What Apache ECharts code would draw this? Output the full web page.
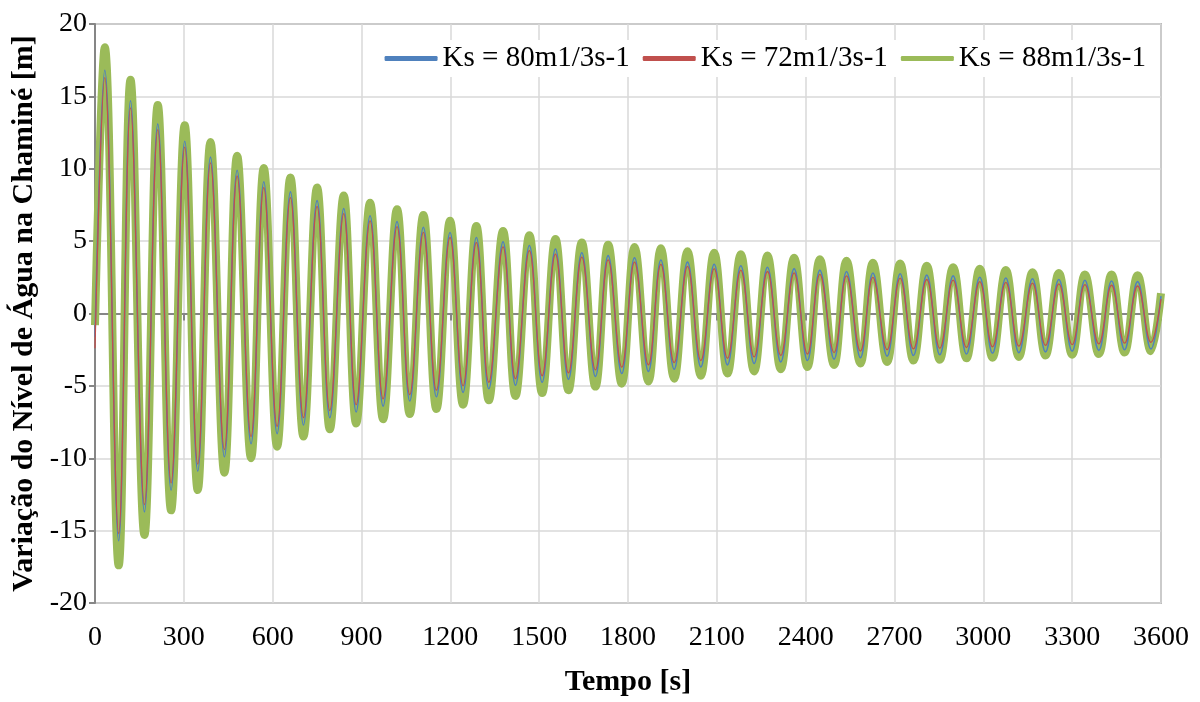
<!DOCTYPE html>
<html>
<head>
<meta charset="utf-8">
<script src="https://cdn.jsdelivr.net/npm/echarts@6/dist/echarts.min.js"></script>
<style>
html,body{margin:0;padding:0;background:#fff;}
#chart{width:1200px;height:702px;}
</style>
</head>
<body>
<div id="chart"></div>
<script>
// Time instants (s): start, then alternating peak / trough times, then end
const time = [0, 33, 80, 120, 167, 212, 257, 303, 347, 390, 437, 480, 527, 570, 615, 660, 704, 750, 793, 840, 882,
  929, 973, 1020, 1063, 1109, 1153, 1199, 1243, 1288, 1330, 1378, 1420, 1467, 1510, 1555, 1599, 1644, 1690, 1733, 1779,
  1822, 1869, 1911, 1956, 2001, 2046, 2091, 2136, 2181, 2226, 2271, 2316, 2361, 2406, 2448, 2496, 2538, 2585, 2627, 2675,
  2719, 2764, 2809, 2853, 2898, 2943, 2988, 3031, 3076, 3120, 3166, 3210, 3255, 3300, 3343, 3390, 3433, 3477, 3521, 3566, 3600];

const xTicks = [0, 300, 600, 900, 1200, 1500, 1800, 2100, 2400, 2700, 3000, 3300, 3600];
const yTicks = [-20, -15, -10, -5, 0, 5, 10, 15, 20];
const seriesNames = ['Ks = 80m1/3s-1', 'Ks = 72m1/3s-1', 'Ks = 88m1/3s-1'];

// Ks = 80 (blue)
const blueStart = -1.6, blueEnd = 1.2;
const bluePeaks = [16.8, 14.7, 13.1, 11.9, 10.8, 9.9, 9.1, 8.4, 7.8, 7.25, 6.75, 6.35, 5.95, 5.6, 5.25, 4.95, 4.7, 4.45, 4.2, 4.0,
  3.85, 3.7, 3.55, 3.4, 3.3, 3.2, 3.1, 3.0, 2.9, 2.8, 2.75, 2.65, 2.6, 2.5, 2.45, 2.4, 2.35, 2.3, 2.25, 2.2];
const blueTroughs = [-15.7, -13.7, -12.2, -10.9, -9.9, -9.0, -8.3, -7.7, -7.2, -6.8, -6.4, -6.05, -5.75, -5.45, -5.2, -4.95, -4.75, -4.55, -4.35, -4.15,
  -4.0, -3.85, -3.7, -3.55, -3.45, -3.35, -3.25, -3.15, -3.05, -2.95, -2.9, -2.85, -2.8, -2.75, -2.7, -2.65, -2.6, -2.55, -2.5, -2.45];

// Ks = 72 (red)
const redStart = -2.4, redEnd = 1.0;
const redPeaks = [16.3, 14.2, 12.7, 11.5, 10.4, 9.5, 8.7, 8.0, 7.4, 6.9, 6.4, 6.0, 5.6, 5.25, 4.9, 4.6, 4.35, 4.1, 3.9, 3.7,
  3.55, 3.4, 3.25, 3.1, 3.0, 2.9, 2.8, 2.7, 2.6, 2.5, 2.45, 2.35, 2.3, 2.2, 2.15, 2.1, 2.05, 2.0, 1.95, 1.9];
const redTroughs = [-15.2, -13.2, -11.7, -10.4, -9.4, -8.5, -7.8, -7.2, -6.7, -6.3, -5.9, -5.6, -5.3, -5.0, -4.75, -4.5, -4.3, -4.1, -3.9, -3.7,
  -3.55, -3.4, -3.25, -3.1, -3.0, -2.9, -2.8, -2.7, -2.6, -2.5, -2.45, -2.4, -2.35, -2.3, -2.25, -2.2, -2.15, -2.1, -2.05, -2.0];

// Ks = 88 (green)
const greenStart = -0.8, greenEnd = 1.4;
const greenPeaks = [18.4, 16.15, 14.4, 13.0, 11.85, 10.9, 10.05, 9.4, 8.7, 8.15, 7.65, 7.2, 6.8, 6.4, 6.05, 5.7, 5.4, 5.15, 4.9, 4.75,
  4.6, 4.5, 4.3, 4.2, 4.1, 4.0, 3.85, 3.75, 3.65, 3.5, 3.45, 3.3, 3.2, 3.1, 3.0, 2.85, 2.8, 2.7, 2.7, 2.65];
const greenTroughs = [-17.4, -15.3, -13.6, -12.2, -11.0, -10.0, -9.2, -8.5, -8.0, -7.6, -7.3, -6.95, -6.6, -6.3, -6.0, -5.7, -5.5, -5.3, -5.05, -4.85,
  -4.7, -4.5, -4.3, -4.15, -4.0, -3.85, -3.7, -3.55, -3.45, -3.35, -3.25, -3.2, -3.1, -3.05, -3.0, -2.9, -2.85, -2.8, -2.7, -2.6];

function build(start, peaks, troughs, end) {
  const out = [[time[0], start]];
  for (let i = 0; i < peaks.length; i++) {
    out.push([time[1 + 2 * i], peaks[i]]);
    out.push([time[2 + 2 * i], troughs[i]]);
  }
  out.push([time[time.length - 1], end]);
  return out;
}

const FONT = 'Liberation Serif';
const chart = echarts.init(document.getElementById('chart'), null, {renderer: 'canvas'});
const xMin = xTicks[0], xMax = xTicks[xTicks.length - 1], xInt = xTicks[1] - xTicks[0];
const yMin = yTicks[0], yMax = yTicks[yTicks.length - 1], yInt = yTicks[1] - yTicks[0];

chart.setOption({
  animation: false,
  backgroundColor: '#fff',
  grid: {left: 95, right: 39, top: 24, bottom: 94, show: true, borderColor: '#868686', borderWidth: 1.5, backgroundColor: 'transparent'},
  legend: {
    data: seriesNames,
    right: 48, top: 40,
    icon: 'roundRect', itemWidth: 53, itemHeight: 5, itemGap: 13,
    backgroundColor: '#fff', padding: [4, 6],
    textStyle: {fontFamily: FONT, fontSize: 29, color: '#000', padding: [0, 0, 0, 0]}
  },
  xAxis: [{
    type: 'value', min: xMin, max: xMax, interval: xInt,
    name: 'Tempo [s]', nameLocation: 'middle', nameGap: 64,
    nameTextStyle: {fontFamily: FONT, fontSize: 30, fontWeight: 'bold', color: '#000'},
    axisLine: {onZero: false, show: false},
    axisTick: {show: false},
    axisLabel: {fontFamily: FONT, fontSize: 28, color: '#000', margin: 21, formatter: v => String(v)},
    splitLine: {show: true, lineStyle: {color: '#d9d9d9', width: 1.5}}
  }, {
    type: 'value', min: xMin, max: xMax, interval: xInt, position: 'bottom',
    axisLine: {onZero: true, show: true, lineStyle: {color: '#868686', width: 2}},
    axisTick: {show: true, inside: false, length: 7, lineStyle: {color: '#868686', width: 2}},
    axisLabel: {show: false},
    splitLine: {show: false}
  }],
  yAxis: {
    type: 'value', min: yMin, max: yMax, interval: yInt,
    name: 'Variação do Nível de Água na Chaminé [m]', nameLocation: 'middle', nameGap: 49,
    nameTextStyle: {fontFamily: FONT, fontSize: 30, fontWeight: 'bold', color: '#000'},
    axisLine: {show: true, lineStyle: {color: '#868686', width: 2}},
    axisTick: {show: true, length: 6, lineStyle: {color: '#868686', width: 2}},
    axisLabel: {fontFamily: FONT, fontSize: 28, color: '#000', margin: 8},
    splitLine: {show: true, lineStyle: {color: '#d9d9d9', width: 1.5}}
  },
  series: [{
    name: seriesNames[0], type: 'line', xAxisIndex: 0, data: build(blueStart, bluePeaks, blueTroughs, blueEnd),
    smooth: 0.4, symbol: 'none', z: 4, lineStyle: {color: '#4F81BD', width: 1.6}, itemStyle: {color: '#4F81BD'}
  }, {
    name: seriesNames[1], type: 'line', xAxisIndex: 0, data: build(redStart, redPeaks, redTroughs, redEnd),
    smooth: 0.4, symbol: 'none', z: 5, lineStyle: {color: '#C0504D', width: 1.3}, itemStyle: {color: '#C0504D'}
  }, {
    name: seriesNames[2], type: 'line', xAxisIndex: 0, data: build(greenStart, greenPeaks, greenTroughs, greenEnd),
    smooth: 0.4, symbol: 'none', z: 2, lineStyle: {color: '#9BBB59', width: 8}, itemStyle: {color: '#9BBB59'}
  }]
});
</script>
</body>
</html>
